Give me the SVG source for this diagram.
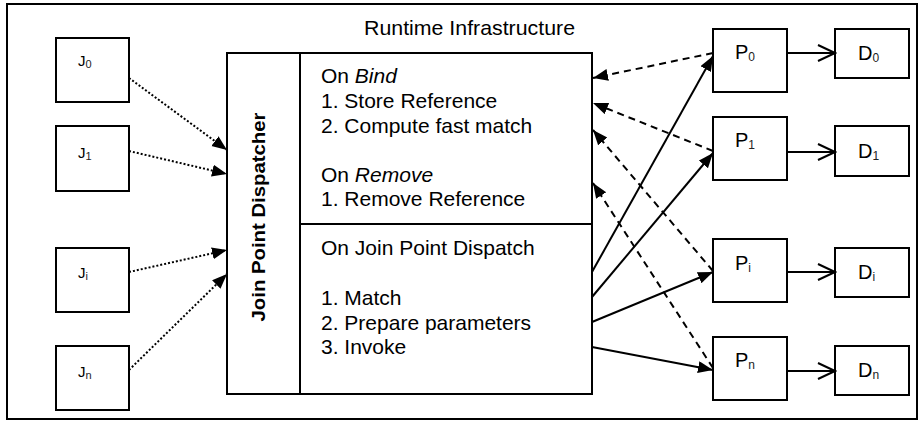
<svg xmlns="http://www.w3.org/2000/svg" width="923" height="423" viewBox="0 0 923 423">
<style>
.box{fill:#fff;stroke:#000;stroke-width:2}
.t{font-family:"Liberation Sans",Arial,sans-serif;fill:#000}
.big{font-size:21px}
.lbl{font-size:20px}
.jl{font-size:15px}
.sub{font-size:12px;fill:#222}
.jsub{font-size:11px;fill:#222}
.dot{stroke:#000;stroke-width:2;stroke-dasharray:2,2;fill:none}
.dash{stroke:#000;stroke-width:2;stroke-dasharray:7,5;fill:none}
.sol{stroke:#000;stroke-width:2;fill:none}
</style>
<defs>
<marker id="fa" markerUnits="userSpaceOnUse" markerWidth="16" markerHeight="14" refX="15" refY="6" orient="auto"><path d="M0,0 L15,6 L0,12 z" fill="#000"/></marker>
<marker id="oa" markerUnits="userSpaceOnUse" markerWidth="20" markerHeight="20" refX="18" refY="9" orient="auto"><path d="M1,1 L18,9 L1,17" fill="none" stroke="#000" stroke-width="2"/></marker>
</defs>
<rect x="7" y="4" width="910" height="415" fill="#fff" stroke="#000" stroke-width="2"/>
<text class="t big" x="364" y="35" textLength="211" lengthAdjust="spacingAndGlyphs">Runtime Infrastructure</text>

<g id="dispatcher">
<rect class="box" x="227" y="53" width="365" height="341"/>
<line class="sol" x1="300" y1="53" x2="300" y2="394"/>
<line class="sol" x1="300" y1="224" x2="592" y2="224"/>
<text class="t" font-size="19" font-weight="bold" text-anchor="middle" transform="translate(265,217) rotate(-90)" textLength="209" lengthAdjust="spacingAndGlyphs">Join Point Dispatcher</text>
<text class="t big" x="321" y="83">On <tspan font-style="italic">Bind</tspan></text>
<text class="t big" x="321" y="108">1. Store Reference</text>
<text class="t big" x="321" y="133">2. Compute fast match</text>
<text class="t big" x="321" y="182">On <tspan font-style="italic">Remove</tspan></text>
<text class="t big" x="321" y="206">1. Remove Reference</text>
<text class="t big" x="321" y="255">On Join Point Dispatch</text>
<text class="t big" x="321" y="305">1. Match</text>
<text class="t big" x="321" y="330">2. Prepare parameters</text>
<text class="t big" x="321" y="354">3. Invoke</text>
</g>

<g id="J0"><rect class="box" x="56" y="38" width="73" height="64"/><text class="t jl" x="78" y="66">J<tspan class="jsub" dy="2">0</tspan></text></g>
<g id="J1"><rect class="box" x="56" y="126" width="73" height="65"/><text class="t jl" x="78" y="158">J<tspan class="jsub" dy="2">1</tspan></text></g>
<g id="Ji"><rect class="box" x="56" y="248" width="73" height="64"/><text class="t jl" x="78" y="278">J<tspan class="jsub" dy="2">i</tspan></text></g>
<g id="Jn"><rect class="box" x="56" y="346" width="73" height="64"/><text class="t jl" x="78" y="377">J<tspan class="jsub" dy="2">n</tspan></text></g>

<g id="P0"><rect class="box" x="713" y="29" width="74" height="63"/><text class="t lbl" x="735" y="59">P<tspan class="sub" dy="2">0</tspan></text></g>
<g id="P1"><rect class="box" x="713" y="117" width="74" height="63"/><text class="t lbl" x="735" y="147">P<tspan class="sub" dy="2">1</tspan></text></g>
<g id="Pi"><rect class="box" x="713" y="239" width="74" height="63"/><text class="t lbl" x="735" y="270">P<tspan class="sub" dy="2">i</tspan></text></g>
<g id="Pn"><rect class="box" x="713" y="337" width="74" height="63"/><text class="t lbl" x="735" y="367">P<tspan class="sub" dy="2">n</tspan></text></g>

<g id="D0"><rect class="box" x="835" y="29" width="74" height="49"/><text class="t lbl" x="858" y="60">D<tspan class="sub" dy="2">0</tspan></text></g>
<g id="D1"><rect class="box" x="835" y="126" width="74" height="50"/><text class="t lbl" x="858" y="158">D<tspan class="sub" dy="2">1</tspan></text></g>
<g id="Di"><rect class="box" x="835" y="248" width="74" height="49"/><text class="t lbl" x="858" y="279">D<tspan class="sub" dy="2">i</tspan></text></g>
<g id="Dn"><rect class="box" x="835" y="346" width="74" height="49"/><text class="t lbl" x="858" y="377">D<tspan class="sub" dy="2">n</tspan></text></g>

<g id="connectors">
<line class="dot" x1="129" y1="78" x2="227" y2="150" marker-end="url(#fa)"/>
<line class="dot" x1="129" y1="151" x2="227" y2="174" marker-end="url(#fa)"/>
<line class="dot" x1="129" y1="272" x2="227" y2="250" marker-end="url(#fa)"/>
<line class="dot" x1="129" y1="370" x2="227" y2="274" marker-end="url(#fa)"/>

<line class="dash" x1="713" y1="53" x2="593" y2="78" marker-end="url(#fa)"/>
<line class="dash" x1="713" y1="151" x2="593" y2="103" marker-end="url(#fa)"/>
<line class="dash" x1="713" y1="271" x2="593" y2="130" marker-end="url(#fa)"/>
<line class="dash" x1="713" y1="368" x2="593" y2="183" marker-end="url(#fa)"/>

<line class="sol" x1="592" y1="272" x2="713" y2="56" marker-end="url(#fa)"/>
<line class="sol" x1="592" y1="297" x2="713" y2="153" marker-end="url(#fa)"/>
<line class="sol" x1="592" y1="322" x2="713" y2="272" marker-end="url(#fa)"/>
<line class="sol" x1="592" y1="347" x2="713" y2="370" marker-end="url(#fa)"/>

<line class="sol" x1="787" y1="53" x2="835" y2="53" marker-end="url(#oa)"/>
<line class="sol" x1="787" y1="152" x2="835" y2="152" marker-end="url(#oa)"/>
<line class="sol" x1="787" y1="272" x2="835" y2="272" marker-end="url(#oa)"/>
<line class="sol" x1="787" y1="371" x2="835" y2="371" marker-end="url(#oa)"/>
</g>
</svg>
